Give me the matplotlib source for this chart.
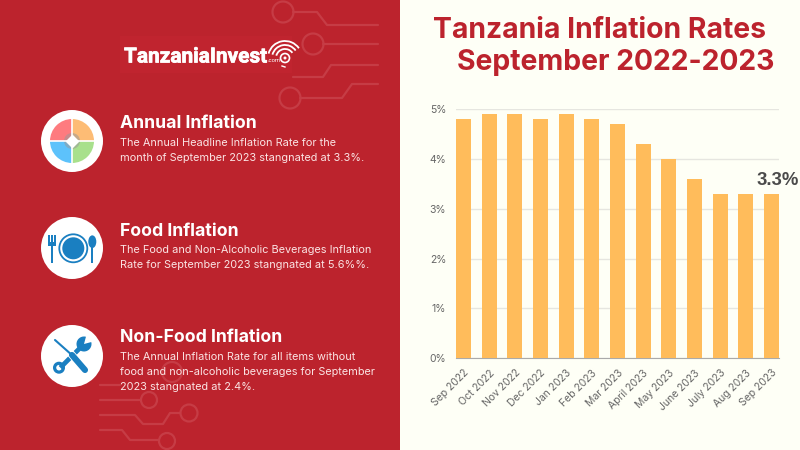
import matplotlib
matplotlib.use('Agg')
import matplotlib.pyplot as plt
from matplotlib.patches import Circle, Rectangle, Wedge, Ellipse, Arc
import matplotlib.patheffects as pe
import numpy as np

months = ['Sep 2022', 'Oct 2022', 'Nov 2022', 'Dec 2022', 'Jan 2023', 'Feb 2023', 'Mar 2023',
          'April 2023', 'May 2023', 'June 2023', 'July 2023', 'Aug 2023', 'Sep 2023']
rates = [4.8, 4.9, 4.9, 4.8, 4.9, 4.8, 4.7, 4.3, 4.0, 3.6, 3.3, 3.3, 3.3]
y_ticks = [0, 1, 2, 3, 4, 5]
y_labels = ['0%', '1%', '2%', '3%', '4%', '5%']

RED = '#bc232d'
CREAM = '#fefff6'
DECO = '#c63c45'
BLUE = '#1a7fc1'

fig = plt.figure(figsize=(8, 4.5), dpi=100, facecolor=CREAM)

# background layer in pixels
bg = fig.add_axes([0, 0, 1, 1])
bg.set_xlim(0, 800)
bg.set_ylim(450, 0)
bg.axis('off')
bg.add_patch(Rectangle((0, 0), 400, 450, color=RED, lw=0))

# circuit decoration
deco_lines = [
    ([293, 317, 327, 378], [12, 12, 25, 25]),
    ([323, 378], [44, 44]),
    ([293, 323, 331, 378], [77, 77, 65, 65]),
    ([300, 342, 352, 378], [98, 98, 84, 84]),
    ([100, 120], [385, 385]),
    ([100, 141], [400, 400]),
    ([100, 135, 143, 163, 170, 180], [415, 415, 424, 424, 413, 413]),
    ([100, 122, 130, 158], [430, 430, 440, 440]),
]
for xs, ys in deco_lines:
    bg.plot(xs, ys, color=DECO, lw=1.6, solid_capstyle='round')
for cx, cy, r in [(283, 12, 10.5), (313, 44, 10.5), (290, 98, 10.5),
                  (172, 372, 10), (149, 400, 8), (189, 413, 8.5), (167, 441, 8)]:
    bg.add_patch(Circle((cx, cy), r, fill=False, ec=DECO, lw=1.6))

# logo
bg.add_patch(Rectangle((120, 36), 172, 37, color='#c0242f', lw=0))
logo = bg.text(124, 62.5, 'TanzaniaInvest', color='white', fontsize=15, fontweight='bold',
               family='Roboto', va='baseline', ha='left')
logo.set_path_effects([pe.withStroke(linewidth=0.5, foreground='white')])
bg.text(268, 62.5, '.com', color='white', fontsize=4.2, family='Roboto', va='baseline')
for r in [9, 13, 17]:
    bg.add_patch(Arc((285, 58), 2 * r, 2 * r, theta1=195, theta2=325, color='white', lw=1.3))
bg.add_patch(Circle((285, 58), 4.5, fill=False, ec='white', lw=1.2))
bg.add_patch(Circle((285, 58), 1.5, color='white', lw=0))
bg.plot([282, 285], [66, 67], color='white', lw=1)

# icon discs
for cy in [141, 248, 356]:
    bg.add_patch(Circle((72, cy), 31, color='white', lw=0, zorder=2))

# pie style icon
for a1, a2, col in [(180, 270, '#fe7b7f'), (270, 360, '#fdbc75'),
                    (90, 180, '#5dc2fb'), (0, 90, '#a8e08c')]:
    bg.add_patch(Wedge((72, 141), 22, a1, a2, color=col, lw=0, zorder=3))
bg.add_patch(Circle((72, 141), 8, color='#9a9a9a', alpha=0.55, lw=0, zorder=4))
bg.plot([72, 72], [118, 164], color='white', lw=1.2, zorder=5)
bg.plot([49, 95], [141, 141], color='white', lw=1.2, zorder=5)
bg.plot([72], [141], marker='D', ms=6.5, color='white', zorder=6)

# plate icon
bg.add_patch(Circle((73.3, 248.3), 14, fill=False, ec=BLUE, lw=1.3, zorder=3))
bg.add_patch(Circle((73.3, 248.3), 11, color=BLUE, lw=0, zorder=3))
bg.add_patch(Rectangle((51.2, 245), 1.8, 18, color=BLUE, lw=0, zorder=3))
bg.add_patch(Rectangle((48.3, 235), 7.5, 10.5, color=BLUE, lw=0, zorder=3))
for fx in [50.0, 52.8]:
    bg.add_patch(Rectangle((fx, 234), 1, 8, color='white', lw=0, zorder=4))
bg.add_patch(Ellipse((92.3, 241.7), 8, 12.7, color=BLUE, lw=0, zorder=3))
bg.add_patch(Rectangle((91.4, 246), 1.8, 17, color=BLUE, lw=0, zorder=3))

# tools icon
bg.plot([62, 82], [366, 346], color=BLUE, lw=3.4, zorder=3)
bg.add_patch(Circle((59, 367.7), 4.4, fill=False, ec=BLUE, lw=2.3, zorder=3))
bg.add_patch(Wedge((84, 344), 7.5, -15, 285, color=BLUE, lw=0, zorder=3))
bg.plot([55, 73], [340, 356], color='white', lw=2.6, zorder=4)
bg.plot([55, 73], [340, 356], color=BLUE, lw=1.5, zorder=5, solid_capstyle='round')
bg.plot([72, 85], [355, 370], color='white', lw=5.6, zorder=4)
bg.plot([72, 85], [355, 370], color=BLUE, lw=4.4, zorder=5, solid_capstyle='round')

# panel text
headings = [('Annual Inflation', 124),
            ('Food Inflation', 231),
            ('Non-Food Inflation', 337)]
for txt, y in headings:
    bg.text(120, y, txt, color='white', fontsize=12.7, fontweight='bold',
            family='Inter', va='center', ha='left')

body = [
    (143, 'The Annual Headline Inflation Rate for the'),
    (158, 'month of September 2023 stangnated at 3.3%.'),
    (250, 'The Food and Non-Alcoholic Beverages Inflation'),
    (265, 'Rate for September 2023 stangnated at 5.6%%.'),
    (357, 'The Annual Inflation Rate for all items without'),
    (372, 'food and non-alcoholic beverages for September'),
    (387, '2023 stangnated at 2.4%.'),
]
for y, txt in body:
    bg.text(120, y, txt, color='#fbe4e4', fontsize=7.87, family='Inter',
            va='center', ha='left')

# title
bg.text(433, 38, 'Tanzania Inflation Rates', color=RED, fontsize=20.4, fontweight='bold',
        family='Inter', va='baseline', ha='left')
bg.text(457, 70, 'September 2022-2023', color=RED, fontsize=20.4, fontweight='bold',
        family='Inter', va='baseline', ha='left')

# chart
ax = fig.add_axes([456 / 800, 1 - 358 / 450, (779 - 456) / 800, (358 - 109.3) / 450])
ax.set_facecolor('none')
x = np.arange(len(months))
ax.bar(x, rates, width=0.58, color='#ffbc5b', zorder=3)
ax.set_xlim(-0.29, len(months) - 1 + 0.29)
ax.set_ylim(0, 5)
ax.set_yticks(y_ticks)
ax.set_yticklabels(y_labels, fontsize=7.5, color='#666666', family='Inter')
ax.set_xticks(x)
ax.set_xticklabels(months, rotation=45, ha='right', rotation_mode='anchor', fontsize=7.5,
                   color='#666666', family='Inter')
ax.tick_params(length=0, pad=7)
ax.grid(axis='y', color='#e6e6e0', lw=1, zorder=0)
for side in ['top', 'right', 'left']:
    ax.spines[side].set_visible(False)
ax.spines['bottom'].set_color('#aaaaaa')
ax.text(x[-1] + 1.07, rates[-1] + 0.26, '3.3%', color='#4a4a4a', fontsize=13.3, fontweight='bold',
        family='Liberation Sans', ha='right', va='center', clip_on=False)

fig.savefig('out.png', dpi=100, facecolor=CREAM)
